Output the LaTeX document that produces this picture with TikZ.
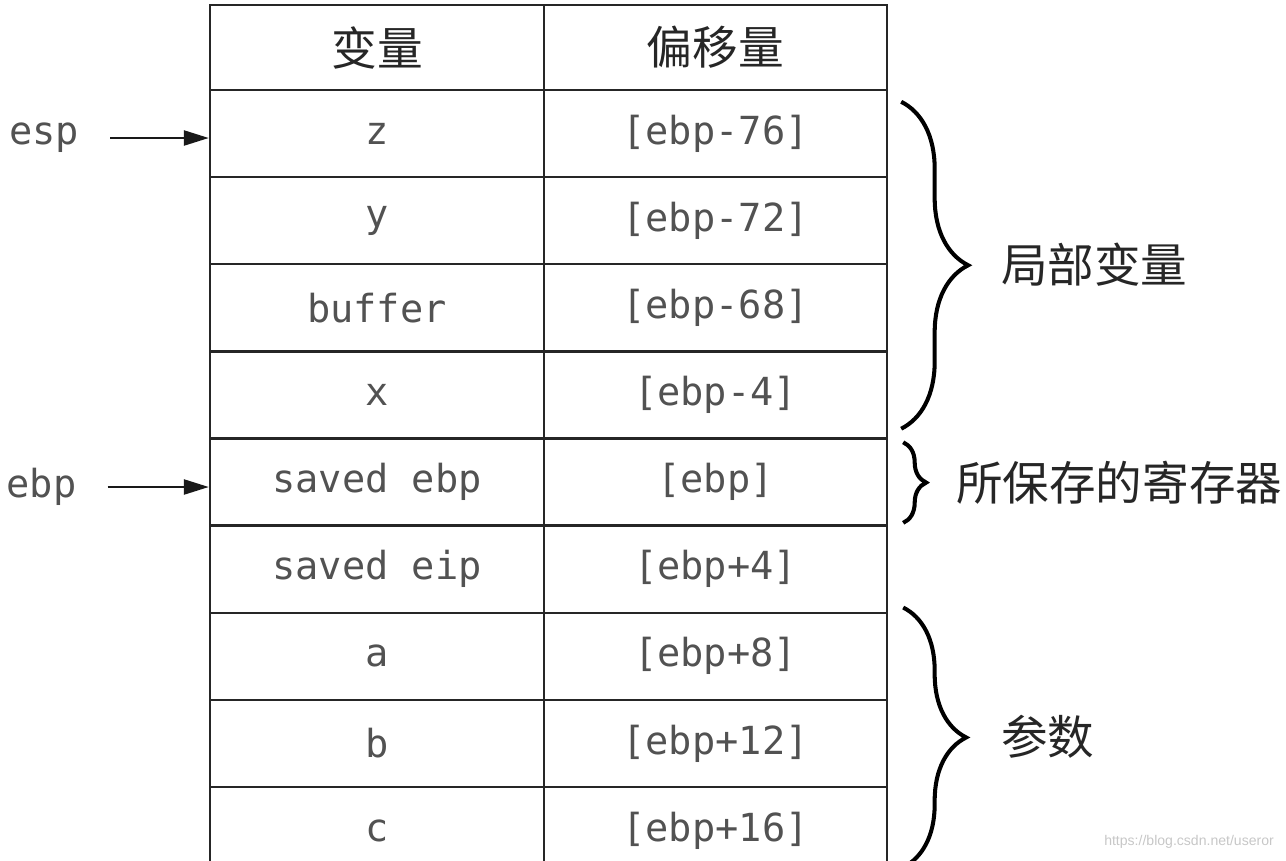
\documentclass[tikz,border=0pt]{standalone}
\usepackage{fontspec}
\newfontfamily\monofont{DejaVu Sans Mono}
\newfontfamily\cjk{Noto Sans CJK SC}
\newfontfamily\wmfont{Liberation Sans}
\usetikzlibrary{arrows.meta,decorations.pathreplacing,positioning}

\begin{document}
\begin{tikzpicture}[
        x=0.02cm, y=-0.02cm,
        cell/.style={rectangle, draw=black!85, line width=1.4pt, minimum height=1.7425cm, inner sep=0pt, font=\monofont\fontsize{22}{24}\selectfont, text=black!68},
        varcell/.style={cell, minimum width=6.68cm},
        offcell/.style={cell, minimum width=6.86cm},
        head/.style={minimum height=1.7cm, font=\cjk\fontsize{26}{28}\selectfont, text=black!85},
        ptrlabel/.style={font=\monofont\fontsize{22}{24}\selectfont, text=black!68},
        ptr/.style={-{Triangle[length=0.5cm,width=0.3cm]}, line width=1.4pt, black!90},
        bracebar/.style={decorate, decoration={brace, amplitude=#1}, line width=2.3pt},
        bracelabel/.style={anchor=west, font=\cjk\fontsize{26.5}{28}\selectfont, text=black!85},
        watermark/.style={font=\wmfont\fontsize{8}{9}\selectfont, text=black!22}
    ]
        \useasboundingbox (0,0) rectangle (1286,860);
        \clip (0,0) rectangle (1286,860);

        % Header
        \node[varcell, head] (hvar) at (377,47.5) {变量};
        \node[offcell, head] (hoff) at (715.5,47.5) {偏移量};

        % Stack frame rows
        \foreach \var/\off [count=\i] in {z/{[ebp-76]}, y/{[ebp-72]}, buffer/{[ebp-68]}, x/{[ebp-4]}, saved ebp/{[ebp]}, saved eip/{[ebp+4]}, a/{[ebp+8]}, b/{[ebp+12]}, c/{[ebp+16]}} {
            \node[varcell] (var\i) at (377,{90+(\i-0.5)*87.125}) {\var};
            \node[offcell] (off\i) at (715.5,{90+(\i-0.5)*87.125}) {\off};
        }

        % Pointers
        \node[ptrlabel] (esp) at (44,138) {esp};
        \node[ptrlabel] (ebp) at (41.5,487) {ebp};
        \draw[ptr, shorten <=0.5cm] (esp) -- (esp -| var1.west);
        \draw[ptr, shorten <=0.5cm] (ebp) -- (ebp -| var5.west);

        % Braces
        \draw[bracebar=1.34cm] ([shift={(13,13)}]off1.north east) -- ([shift={(13,-11)}]off4.south east);
        \node[bracelabel] (locals) at (995,265) {局部变量};
        \draw[bracebar=0.46cm] ([shift={(15,5)}]off5.north east) -- ([shift={(15,-4)}]off5.south east);
        \node[bracelabel] (saved) at (950,483) {所保存的寄存器};
        \draw[bracebar=1.26cm] ([shift={(15,-4)}]off7.north east) -- ([shift={(15,-8)}]off9.south east);
        \node[bracelabel] (args) at (995,737) {参数};

        \node[watermark, anchor=east] (wm) at (1280,842) {https://blog.csdn.net/useror};
    \end{tikzpicture}
\end{document}
